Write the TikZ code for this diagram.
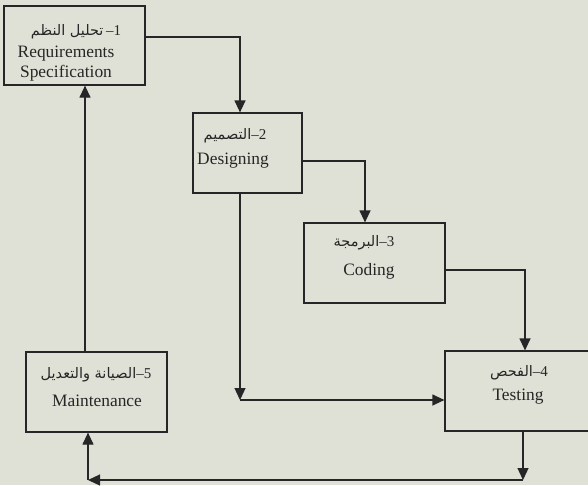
\documentclass[tikz,border=0pt]{standalone}
\usepackage{fontspec}
\setmainfont{Liberation Serif}
\newfontfamily\arabicfont[Script=Arabic]{DejaVu Sans}
\TeXXeTstate=1
\usetikzlibrary{arrows.meta}
\definecolor{paper}{RGB}{224,225,214}
\definecolor{ink}{RGB}{38,38,38}
\newcommand{\arlbl}[2]{{\arabicfont\fontsize{14.5}{16}\selectfont\beginR #1\endR}{\fontsize{15}{16}\selectfont#2}}

\begin{document}
\begin{tikzpicture}[x=1pt, y=-1pt,
	box/.style={draw=ink, line width=1.2pt, fill=paper, inner sep=0pt},
	flow/.style={draw=ink, line width=1.2pt, -{Triangle[length=12pt,width=11pt]}},
	txt/.style={text=ink, inner sep=0pt, font=\fontsize{17.4}{20}\selectfont, align=center}]
	\clip (0,0) rectangle (588,485);
	\fill[paper] (0,0) rectangle (588,485);
	% the five phases
	\node[box, minimum width=141pt, minimum height=79pt] (req) at (74.5,45.5) {};
	\node[box, minimum width=109pt, minimum height=80pt] (des) at (247.5,153) {};
	\node[box, minimum width=141pt, minimum height=80pt] (cod) at (374.5,263) {};
	\node[box, minimum width=155pt, minimum height=80pt] (tst) at (522.5,391) {};
	\node[box, minimum width=141pt, minimum height=80pt] (mnt) at (96.5,392) {};
	% labels
	\node[txt] (reqar) at (76,32) {\arlbl{تحليل النظم}{\,–1}};
	\node[txt] (reqen) at (66,64) {Requirements\\Specification};
	\node[txt] (desar) at (235,136) {\arlbl{التصميم}{–2}};
	\node[txt] (desen) at (233,161) {Designing};
	\node[txt] (codar) at (364,243) {\arlbl{البرمجة}{–3}};
	\node[txt] (coden) at (369,271) {Coding};
	\node[txt] (tstar) at (519,373) {\arlbl{الفحص}{–4}};
	\node[txt] (tsten) at (518,397) {Testing};
	\node[txt] (mntar) at (96,375) {\arlbl{الصيانة والتعديل}{–5}};
	\node[txt] (mnten) at (97,401) {Maintenance};
	% bends
	\coordinate (t1) at (240,37);
	\coordinate (t2) at (365,161);
	\coordinate (t3) at (525,270);
	\coordinate (t4) at (240,400);
	\coordinate (t5) at (523,480);
	\coordinate (t6) at (88,480);
	\coordinate (t7) at (85,0);
	% connectors
	\draw[flow] (req.east |- t1) -| (t1 |- des.north);
	\draw[flow] (des.east |- t2) -| (t2 |- cod.north);
	\draw[flow] (cod.east |- t3) -| (t3 |- tst.north);
	\draw[flow] (t4 |- des.south) -- (t4);
	\draw[flow] (t4) -- (tst.west |- t4);
	\draw[flow] (t5 |- tst.south) -- (t5);
	\draw[flow] (t5) -- (t6);
	\draw[flow] (t6) -- (t6 |- mnt.south);
	\draw[flow] (t7 |- mnt.north) -- (t7 |- req.south);
\end{tikzpicture}
\end{document}
